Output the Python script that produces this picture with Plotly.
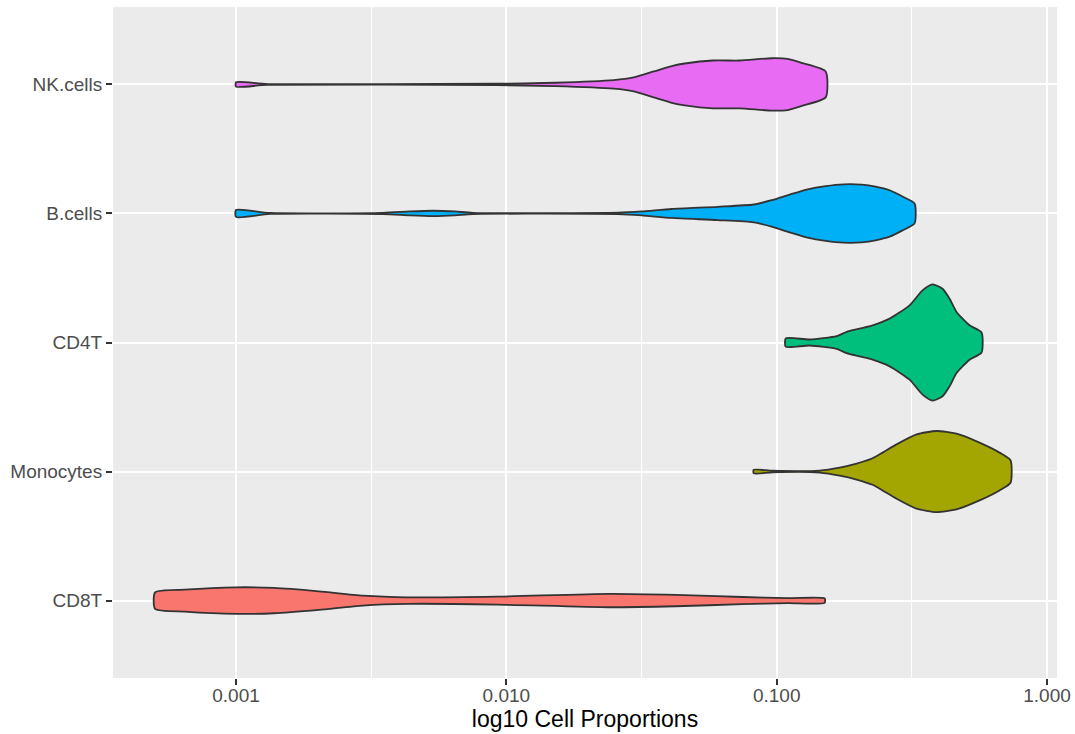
import numpy as np
import plotly.graph_objects as go

# Categories (bottom to top) and ggplot hue colours
categories = ["CD8T", "Monocytes", "CD4T", "B.cells", "NK.cells"]
colors = ["#F8766D", "#A3A500", "#00BF7D", "#00B0F6", "#E76BF3"]

# Violin outlines: cell proportion and relative density
cd8t_x = [0.000502, 0.000646, 0.001, 0.001381, 0.002026, 0.002948, 0.004324,
          0.009224, 0.02393, 0.04231, 0.07485, 0.1100, 0.1505]
cd8t_d = [8.3, 11.0, 13.3, 12.7, 9.3, 5.0, 3.3, 4.0, 6.7, 5.7, 3.6, 2.5, 2.2]

mono_x = [0.08222, 0.09665, 0.1442, 0.1710, 0.1975, 0.2264, 0.2465, 0.2777,
          0.3293, 0.3904, 0.4628, 0.5628, 0.6674, 0.7329]
mono_d = [1.8, 0.8, 1.0, 4.0, 8.0, 13.3, 19.0, 27.3, 37.3, 40.7, 38.0, 29.0,
          19.0, 11.3]

cd4t_x = [0.1080, 0.1324, 0.1666, 0.1815, 0.2026, 0.2264, 0.2617, 0.3102,
          0.3465, 0.3773, 0.4109, 0.4362, 0.4628, 0.5170, 0.5727]
cd4t_d = [4.2, 3.0, 6.3, 10.7, 14.0, 17.3, 24.0, 37.3, 52.3, 58.3, 54.0, 44.0,
          30.7, 17.3, 10.0]

bcell_x = [0.001, 0.001335, 0.003494, 0.004398, 0.005350, 0.006451, 0.007518,
           0.02584, 0.03169, 0.04090, 0.06050, 0.08222, 0.09583, 0.1117,
           0.1302, 0.1518, 0.1769, 0.2062, 0.2323, 0.2617, 0.2922, 0.3237]
bcell_d = [3.5, 0.5, 0.6, 2.0, 2.7, 2.0, 0.6, 0.7, 2.0, 4.5, 6.7, 9.0, 13.3,
           19.0, 24.3, 27.5, 29.3, 29.0, 27.0, 23.3, 17.0, 10.0]

nk_x = [0.001, 0.001302, 0.00915, 0.01511, 0.02496, 0.02960, 0.03510, 0.04125,
        0.04570, 0.05800, 0.07298, 0.09583, 0.1098, 0.1248, 0.1518]
nk_d = [2.2, 0.5, 0.7, 1.7, 4.3, 7.0, 13.0, 18.7, 21.0, 24.0, 24.0, 26.3, 25.7,
        21.3, 13.0]

tick_vals = [0.001, 0.01, 0.1, 1.0]
tick_text = ["0.001", "0.010", "0.100", "1.000"]

series_x = [cd8t_x, mono_x, cd4t_x, bcell_x, nk_x]
series_d = [cd8t_d, mono_d, cd4t_d, bcell_d, nk_d]

max_d = max(max(d) for d in series_d)
half_width = 0.45  # ggplot violin width 0.9, scale = "area"

fig = go.Figure()
for i, (cat, col, xs, ds) in enumerate(zip(categories, colors, series_x, series_d)):
    pos = i + 1
    xs = np.array(xs)
    w = np.array(ds) / max_d * half_width
    px = np.concatenate([xs, xs[::-1], xs[:1]])
    py = np.concatenate([pos + w, (pos - w)[::-1], [pos + w[0]]])
    fig.add_trace(go.Scatter(
        x=px, y=py, mode="lines", fill="toself", fillcolor=col,
        line=dict(color="#333333", width=1.8, shape="spline", smoothing=0.6),
        name=cat, hoverinfo="name",
    ))

minor_vals = [10 ** (-3.5), 10 ** (-2.5), 10 ** (-1.5), 10 ** (-0.5)]

fig.update_layout(
    width=1075, height=734,
    margin=dict(l=113, r=18, t=7, b=56),
    paper_bgcolor="white", plot_bgcolor="#EBEBEB",
    showlegend=False,
    font=dict(family="Liberation Sans, Arial, sans-serif"),
    xaxis=dict(
        type="log", range=[-3.455, 0.037], automargin=False,
        tickmode="array", tickvals=tick_vals, ticktext=tick_text,
        ticks="outside", ticklen=6, tickwidth=2, tickcolor="#333333",
        tickfont=dict(size=19, color="#4D4D4D"), ticklabelstandoff=-6,
        showgrid=True, gridcolor="white", gridwidth=2.2,
        minor=dict(tickmode="array", tickvals=minor_vals, showgrid=True,
                   gridcolor="white", gridwidth=1.1, ticks=""),
        zeroline=False, showline=False,
        title=dict(text="log10 Cell Proportions", font=dict(size=23, color="black"), standoff=6),
    ),
    yaxis=dict(
        range=[0.4, 5.6], automargin=False,
        tickmode="array", tickvals=[1, 2, 3, 4, 5], ticktext=categories,
        ticks="outside", ticklen=6, tickwidth=2, tickcolor="#333333",
        tickfont=dict(size=19, color="#4D4D4D"),
        showgrid=True, gridcolor="white", gridwidth=2.2,
        zeroline=False, showline=False,
    ),
)

fig.write_html("out.html", config={"displayModeBar": False},
               post_script="document.body.style.margin='0';document.body.style.overflow='hidden';")
